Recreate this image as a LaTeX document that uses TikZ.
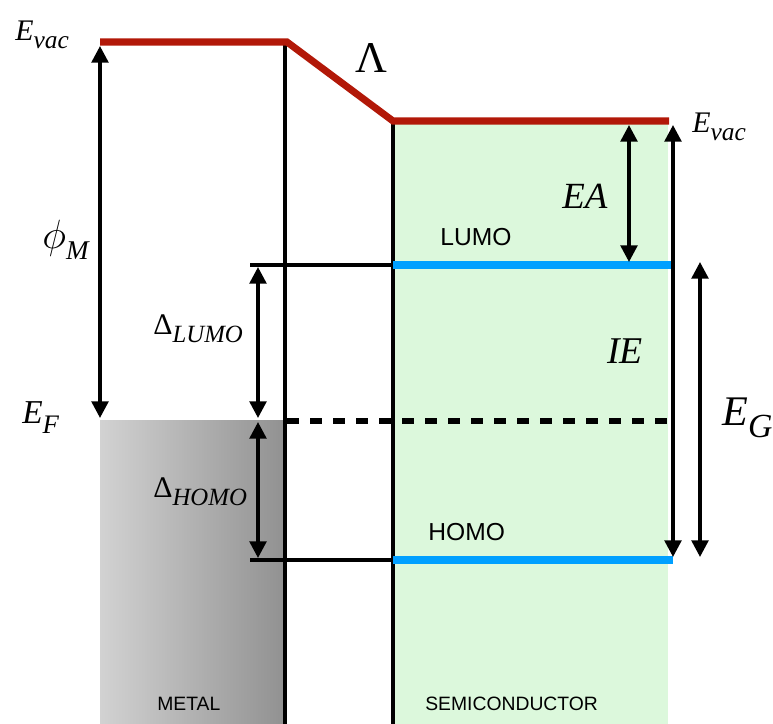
\documentclass[tikz,border=0pt]{standalone}
\usepackage{amsmath}
\usepackage{fontspec}
\setmainfont{Liberation Serif}
\newfontfamily\labsans{Liberation Sans}
\usepackage{xcolor}
\definecolor{vacred}{RGB}{178,24,8}
\definecolor{orbblue}{RGB}{0,160,255}
\definecolor{semigreen}{RGB}{220,248,220}
\definecolor{metallight}{RGB}{210,210,210}
\definecolor{metaldark}{RGB}{145,145,145}
\usepackage{tikz}
\usetikzlibrary{arrows.meta}

% lowered, smaller subscript in text mode
\newcommand{\levsub}[2][0.8]{\raisebox{-0.3em}{\scalebox{#1}{\itshape #2}}}

\begin{document}
\begin{tikzpicture}[x=0.2mm, y=-0.2mm,
  wall/.style={black, line width=2pt},
  orbital/.style={orbblue, line width=4pt},
  dimarrow/.style={{Triangle[length=9.5pt,width=9.5pt]}-{Triangle[length=9.5pt,width=9.5pt]}, line width=2pt},
  mathlab/.style={anchor=base west, inner sep=0pt},
  sanslab/.style={anchor=base west, inner sep=0pt, font=\labsans\fontsize{14}{14}\selectfont}]

\useasboundingbox (0,0) rectangle (773,724);

% === Bulk regions ===
\fill[semigreen] (393,121) rectangle (668,724);
\shade[left color=metallight, right color=metaldark] (100,420) rectangle (285,724);

% Interfaces
\draw[wall] (285,42) -- (285,724);
\draw[wall] (393,121) -- (393,724);

% Vacuum level with dipole step
\draw[vacred, line width=4pt] (100,42) -- (287,42) -- (393,121) -- (669,121);

% === Levels ===
\draw[wall] (250,265) -- (393,265);
\draw[orbital] (393,265) -- (673,265);
\draw[wall] (250,560) -- (393,560);
\draw[orbital] (393,560) -- (673,560);
% Fermi level
\draw[black, line width=3pt, dash pattern=on 6.8pt off 6.3pt] (287,421) -- (673,421);

% === Energy arrows ===
\coordinate (phiTop) at (100,46);
\coordinate (phiBot) at (100,418);
\coordinate (dlTop) at (258,267);
\coordinate (dlBot) at (258,418);
\coordinate (dhTop) at (258,422);
\coordinate (dhBot) at (258,558);
\coordinate (eaTop) at (629,125);
\coordinate (eaBot) at (629,262);
\coordinate (ieTop) at (673,125);
\coordinate (ieBot) at (673,557);
\coordinate (egTop) at (700,262);
\coordinate (egBot) at (700,557);

\draw[dimarrow] (phiTop) -- (phiBot);
\draw[dimarrow] (dlTop) -- (dlBot);
\draw[dimarrow] (dhTop) -- (dhBot);
\draw[dimarrow] (eaTop) -- (eaBot);
\draw[dimarrow] (ieTop) -- (ieBot);
\draw[dimarrow] (egTop) -- (egBot);

% === Labels ===
\node[mathlab, font=\fontsize{17}{17}\selectfont] (evacL) at (15,40) {\textit{E}\levsub[0.85]{vac}};
\node[mathlab, font=\fontsize{25}{25}\selectfont] (lambda) at (355,72) {Λ};
\node[mathlab, font=\fontsize{17}{17}\selectfont] (evacR) at (692,132) {\textit{E}\levsub[0.85]{vac}};
\node[mathlab, font=\fontsize{21}{21}\selectfont] (ea) at (562,208) {\textit{EA}};
\node[mathlab, font=\fontsize{21.5}{21.5}\selectfont] (ie) at (607,363) {\textit{IE}};
\node[mathlab, font=\fontsize{22}{22}\selectfont] (phim) at (42,248) {\scalebox{1.12}{$\phi$}\levsub[0.7]{M}};
\node[mathlab, font=\fontsize{17}{17}\selectfont] (dlumo) at (153,334) {Δ\levsub[0.83]{LUMO}};
\node[mathlab, font=\fontsize{19}{19}\selectfont] (ef) at (22,423) {\textit{E}\levsub{F}};
\node[mathlab, font=\fontsize{24}{24}\selectfont] (eg) at (722,425) {\textit{E}\levsub{G}};
\node[mathlab, font=\fontsize{17}{17}\selectfont] (dhomo) at (153,497) {Δ\levsub[0.83]{HOMO}};

\node[sanslab] (lumo) at (440,245) {LUMO};
\node[sanslab] (homo) at (428,540) {HOMO};
\node[sanslab, font=\labsans\fontsize{11}{11}\selectfont] (metal) at (157,710) {METAL};
\node[sanslab, font=\labsans\fontsize{11}{11}\selectfont] (semi) at (425,710) {SEMICONDUCTOR};

\end{tikzpicture}
\end{document}
